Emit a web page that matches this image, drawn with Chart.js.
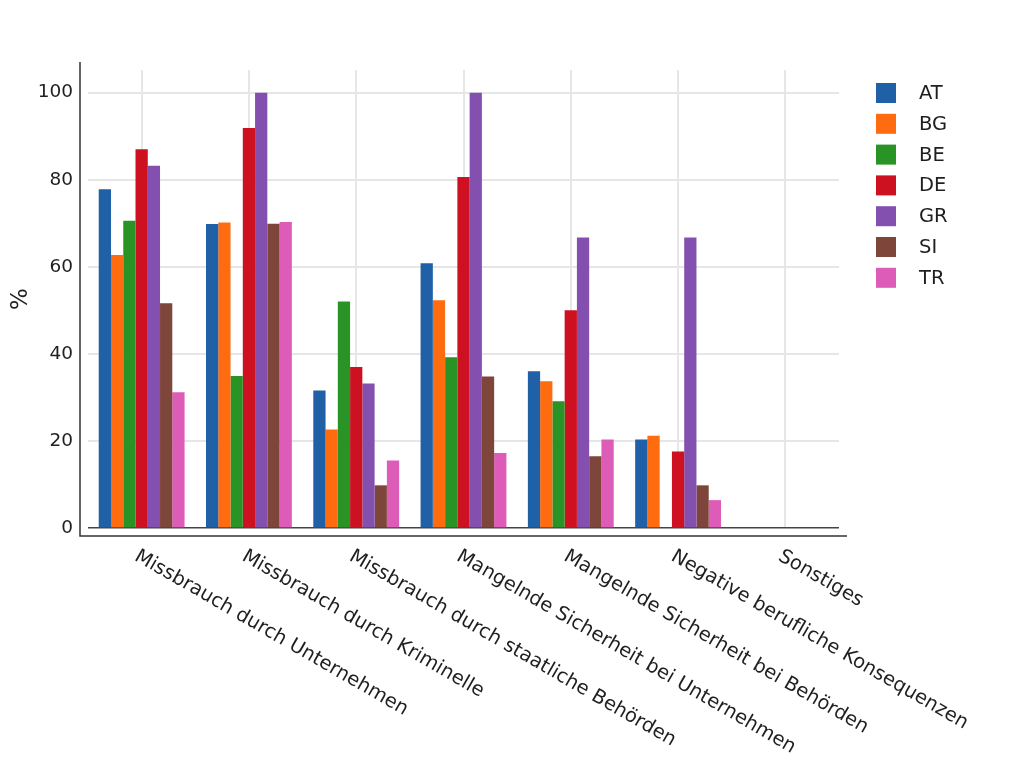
<!DOCTYPE html>
<html>
<head>
<meta charset="utf-8">
<script src="https://cdn.jsdelivr.net/npm/chart.js@4/dist/chart.umd.min.js"></script>
<style>
  html, body { margin: 0; padding: 0; background: #fff; }
  #wrap { width: 1024px; height: 771px; position: relative; }
</style>
</head>
<body>
<div id="wrap"><canvas id="c" width="1024" height="771"></canvas></div>
<script>
const categories = [
  "Missbrauch durch Unternehmen",
  "Missbrauch durch Kriminelle",
  "Missbrauch durch staatliche Behörden",
  "Mangelnde Sicherheit bei Unternehmen",
  "Mangelnde Sicherheit bei Behörden",
  "Negative berufliche Konsequenzen",
  "Sonstiges"
];
const seriesNames = ["AT", "BG", "BE", "DE", "GR", "SI", "TR"];
const valuesAT = [77.8, 69.8, 31.6, 60.8, 36.0, 20.3, 0];
const valuesBG = [62.7, 70.2, 22.6, 52.3, 33.7, 21.2, 0];
const valuesBE = [70.6, 34.9, 52.0, 39.2, 29.1, 0, 0];
const valuesDE = [87.0, 91.9, 37.0, 80.6, 50.0, 17.6, 0];
const valuesGR = [83.2, 100, 33.2, 100, 66.7, 66.7, 0];
const valuesSI = [51.6, 69.9, 9.8, 34.8, 16.5, 9.8, 0];
const valuesTR = [31.2, 70.3, 15.5, 17.2, 20.3, 6.4, 0];
const yTicks = [0, 20, 40, 60, 80, 100];
const yTitle = "%";

const seriesValues = [valuesAT, valuesBG, valuesBE, valuesDE, valuesGR, valuesSI, valuesTR];
const seriesColors = ["#1f60a7", "#ff6c10", "#2a9325", "#cd1120", "#8450b0", "#7e453b", "#dd5cb8"];

const FONT = "'DejaVu Sans', Verdana, sans-serif";
const TEXT = "#1f1f1f";

const drawExtras = {
  id: "drawExtras",
  afterDraw(chart) {
    const ctx = chart.ctx;
    const a = chart.chartArea;
    const xs = chart.scales.x;
    ctx.save();
    // offset axis lines
    ctx.strokeStyle = "#333";
    ctx.lineWidth = 1.5;
    ctx.beginPath();
    ctx.moveTo(a.left - 8, a.top - 8);
    ctx.lineTo(a.left - 8, a.bottom + 8);
    ctx.lineTo(a.right + 8, a.bottom + 8);
    ctx.stroke();
    // x labels
    ctx.fillStyle = TEXT;
    ctx.font = "19.5px " + FONT;
    ctx.textAlign = "left";
    ctx.textBaseline = "middle";
    categories.forEach((c, i) => {
      const px = xs.getPixelForValue(i);
      ctx.save();
      ctx.translate(px - 5.5, a.bottom + 27);
      ctx.rotate(30 * Math.PI / 180);
      ctx.fillText(c, 0, 0);
      ctx.restore();
    });
    // y title
    ctx.save();
    ctx.font = "23px " + FONT;
    ctx.textAlign = "center";
    ctx.textBaseline = "middle";
    ctx.translate(21, (a.top + a.bottom) / 2);
    ctx.rotate(-Math.PI / 2);
    ctx.fillText(yTitle, 0, 0);
    ctx.restore();
    // legend
    ctx.font = "19.5px " + FONT;
    ctx.textAlign = "left";
    ctx.textBaseline = "middle";
    chart.data.datasets.forEach((ds, i) => {
      const top = 83 + i * 30.8;
      ctx.fillStyle = ds.backgroundColor;
      ctx.fillRect(876, top, 20, 20);
      ctx.fillStyle = TEXT;
      ctx.fillText(ds.label, 919, top + 11);
    });
    ctx.restore();
  }
};

new Chart(document.getElementById("c"), {
  type: "bar",
  data: {
    labels: categories,
    datasets: seriesNames.map((n, i) => ({
      label: n,
      data: seriesValues[i],
      backgroundColor: seriesColors[i],
      borderWidth: 0,
      categoryPercentage: 0.8,
      barPercentage: 1.0
    }))
  },
  options: {
    responsive: false,
    animation: false,
    devicePixelRatio: 1,
    layout: { padding: { left: 28, right: 185, top: 70, bottom: 0 } },
    plugins: { legend: { display: false }, tooltip: { enabled: false } },
    scales: {
      x: {
        type: "category",
        offset: true,
        grid: { offset: false, color: "#e6e6e6", lineWidth: 2, drawTicks: false },
        border: { display: false },
        ticks: { display: false },
        afterFit(s) { s.height = 243; }
      },
      y: {
        min: 0,
        max: 105.2,
        afterBuildTicks(s) { s.ticks = yTicks.map(v => ({ value: v })); },
        grid: {
          color: (c) => (c.tick && c.tick.value === 0) ? "#444" : "#e6e6e6",
          lineWidth: (c) => (c.tick && c.tick.value === 0) ? 1.5 : 2,
          drawTicks: false
        },
        border: { display: false },
        ticks: {
          padding: 15,
          color: TEXT,
          font: { family: FONT, size: 18.5 }
        },
        afterFit(s) { s.width = 60; }
      }
    }
  },
  plugins: [drawExtras]
});
</script>
</body>
</html>
